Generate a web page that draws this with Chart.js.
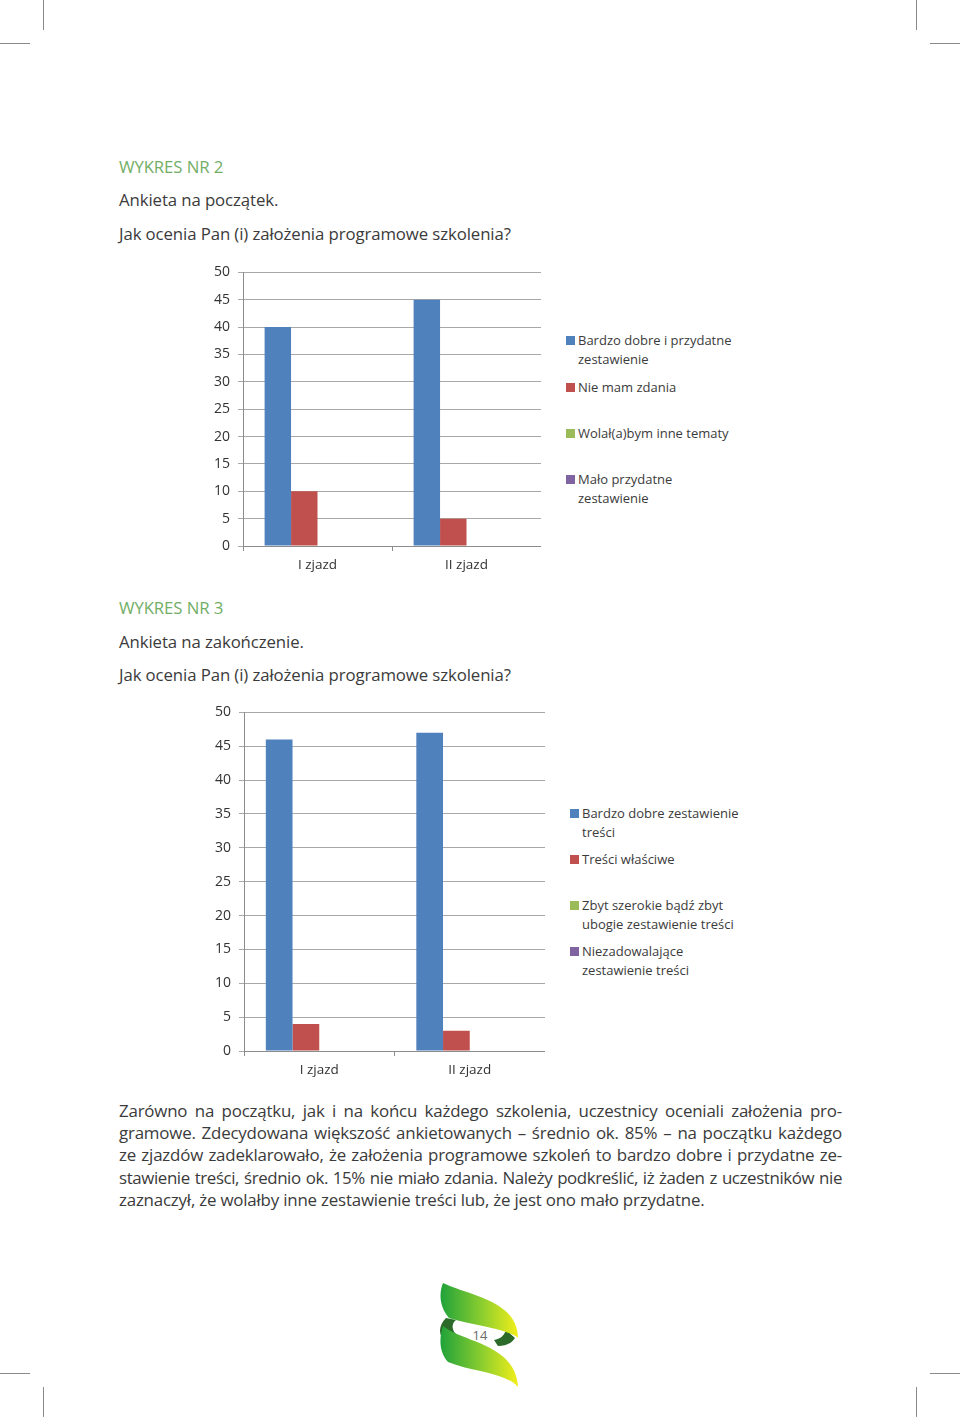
<!DOCTYPE html>
<html>
<head>
<meta charset="utf-8">
<script src="https://cdn.jsdelivr.net/npm/chart.js@4"></script>
<style>
  body { margin: 0; background: #fff; }
  #page { position: relative; width: 960px; height: 1417px; overflow: hidden; font-family: "Open Sans", sans-serif; color: #3b3b3b; }
  .mark { position: absolute; background: #8a8a8a; }
  .t { position: absolute; left: 119px; font-size: 16.8px; line-height: 20px; white-space: nowrap; letter-spacing: -0.1px; }
  .green { color: #72ae66; }
  .box { position: absolute; }
  .legend { position: absolute; font-size: 13px; color: #3b3b3b; }
  .legend .item { position: absolute; left: 0; padding-left: 12px; line-height: 18.5px; }
  .legend .sw { position: absolute; left: 0; top: 5px; width: 9px; height: 9px; }
  #para { position: absolute; left: 119px; top: 1100px; width: 723px; font-size: 16.9px; line-height: 22.2px; letter-spacing: -0.2px; }
  #para div { text-align: justify; text-align-last: justify; white-space: nowrap; }
  #para div.tight { letter-spacing: -0.4px; word-spacing: -0.5px; }
  #para div.last { text-align-last: left; }
</style>
</head>
<body>
<div id="page">
  <div class="mark" style="left:43px;top:0;width:1px;height:30px"></div>
  <div class="mark" style="left:0;top:43px;width:30px;height:1px"></div>
  <div class="mark" style="left:916px;top:0;width:1px;height:30px"></div>
  <div class="mark" style="left:930px;top:43px;width:30px;height:1px"></div>
  <div class="mark" style="left:43px;top:1387px;width:1px;height:30px"></div>
  <div class="mark" style="left:0;top:1373px;width:30px;height:1px"></div>
  <div class="mark" style="left:916px;top:1387px;width:1px;height:30px"></div>
  <div class="mark" style="left:930px;top:1373px;width:30px;height:1px"></div>

  <div class="t green" style="top:157px">WYKRES NR 2</div>
  <div class="t" style="top:190px">Ankieta na początek.</div>
  <div class="t" style="top:224px">Jak ocenia Pan (i) założenia programowe szkolenia?</div>

  <div class="box" style="left:200px;top:256px;width:341px;height:324px"><canvas id="c1" width="341" height="324"></canvas></div>
  <div class="legend" id="leg1" style="left:566px;top:331px;width:172px"></div>

  <div class="t green" style="top:598px">WYKRES NR 3</div>
  <div class="t" style="top:632px">Ankieta na zakończenie.</div>
  <div class="t" style="top:665px">Jak ocenia Pan (i) założenia programowe szkolenia?</div>

  <div class="box" style="left:200px;top:696px;width:345px;height:389px"><canvas id="c2" width="345" height="389"></canvas></div>
  <div class="legend" id="leg2" style="left:570px;top:804px;width:172px"></div>

  <div id="para">
    <div>Zarówno na początku, jak i na końcu każdego szkolenia, uczestnicy oceniali założenia pro-</div>
    <div>gramowe. Zdecydowana większość ankietowanych – średnio ok. 85% – na początku każdego</div>
    <div>ze zjazdów zadeklarowało, że założenia programowe szkoleń to bardzo dobre i przydatne ze-</div>
    <div class="tight">stawienie treści, średnio ok. 15% nie miało zdania. Należy podkreślić, iż żaden z uczestników nie</div>
    <div class="last">zaznaczył, że wolałby inne zestawienie treści lub, że jest ono mało przydatne.</div>
  </div>

  <svg style="position:absolute;left:430px;top:1275px" width="100" height="120" viewBox="430 1275 100 120">
    <defs>
      <linearGradient id="lg" x1="0" y1="0" x2="1" y2="0">
        <stop offset="0" stop-color="#1fa23a"/>
        <stop offset="0.55" stop-color="#8fcf2e"/>
        <stop offset="1" stop-color="#f2ee1a"/>
      </linearGradient>
    </defs>
    <path d="M446,1318 C438,1326 438,1336 446,1342 L456,1334 C452,1330 451,1324 456,1320 Z" fill="#2c6a2a"/>
    <path d="M498,1346 C506,1346 512,1343 515,1338 L506,1330 C504,1336 500,1339 494,1340 Z" fill="#2c6a2a"/>
    <path d="M443,1283 C470,1296 517,1300 518,1338 C506,1328 474,1326 449,1318 C439,1306 439,1293 443,1283 Z" fill="url(#lg)"/>
    <path d="M443,1326 C462,1342 516,1344 518,1387 C505,1372 472,1372 448,1362 C439,1352 439,1338 443,1326 Z" fill="url(#lg)"/>
    <text x="480" y="1340" text-anchor="middle" font-family="Open Sans" font-size="13" fill="#6b6b6b">14</text>
  </svg>
</div>
<script>
// dane
var zjazdy = ['I zjazd', 'II zjazd'];
var yMax = 50;
var yStep = 5;
var colors = ['#4f81bd', '#c0504d', '#9bbb59', '#8064a2'];

var labels2 = ['Bardzo dobre i przydatne zestawienie', 'Nie mam zdania', 'Wolał(a)bym inne tematy', 'Mało przydatne zestawienie'];
var bardzoDobre2 = [40, 45];
var nieMamZdania2 = [10, 5];
var wolalbym2 = [0, 0];
var maloPrzydatne2 = [0, 0];

var labels3 = ['Bardzo dobre zestawienie treści', 'Treści właściwe', 'Zbyt szerokie bądź zbyt ubogie zestawienie treści', 'Niezadowalające zestawienie treści'];
var bardzoDobre3 = [46, 47];
var wlasciwe3 = [4, 3];
var zbyt3 = [0, 0];
var niezadowalajace3 = [0, 0];

function makeChart(id, names, series, yWidth) {
    var ctx = document.getElementById(id).getContext('2d');
    var datasets = [];
    for (let i = 0; i < series.length; i++) {
        datasets.push({
            label: names[i],
            data: series[i],
            backgroundColor: colors[i],
            borderWidth: 0,
            categoryPercentage: 0.71,
            barPercentage: 1
        });
    }
    return new Chart(ctx, {
        type: 'bar',
        data: { labels: zjazdy, datasets: datasets },
        options: {
            responsive: false,
            animation: false,
            devicePixelRatio: 1,
            layout: { padding: { top: 15, right: 0, left: 0, bottom: 0 } },
            plugins: { legend: { display: false }, tooltip: { enabled: false } },
            scales: {
                x: {
                    grid: { drawOnChartArea: false, drawTicks: true, tickLength: 5, color: '#8c8c8c', offset: true },
                    border: { color: '#8c8c8c' },
                    ticks: { font: { family: 'Open Sans', size: 13.5 }, color: '#333', padding: 6 },
                    afterFit: function(s) { s.height = 34; }
                },
                y: {
                    min: 0,
                    max: yMax,
                    ticks: { stepSize: yStep, font: { family: 'Open Sans', size: 14 }, color: '#333', padding: 8 },
                    grid: { color: '#a8a8a8', tickLength: 5 },
                    border: { color: '#8c8c8c' },
                    afterFit: function(s) { s.width = yWidth; }
                }
            }
        }
    });
}

function buildLegend(chart, el, tops) {
    chart.data.datasets.forEach(function(ds, i) {
        var item = document.createElement('div');
        item.className = 'item';
        item.style.top = tops[i] + 'px';
        var sw = document.createElement('span');
        sw.className = 'sw';
        sw.style.background = ds.backgroundColor;
        item.appendChild(sw);
        item.appendChild(document.createTextNode(ds.label));
        el.appendChild(item);
    });
}

var chart2 = makeChart('c1', labels2, [bardzoDobre2, nieMamZdania2, wolalbym2, maloPrzydatne2], 43);
var chart3 = makeChart('c2', labels3, [bardzoDobre3, wlasciwe3, zbyt3, niezadowalajace3], 44);
buildLegend(chart2, document.getElementById('leg1'), [0, 46.5, 93, 139]);
buildLegend(chart3, document.getElementById('leg2'), [0, 46, 92, 138]);
</script>
</body>
</html>
